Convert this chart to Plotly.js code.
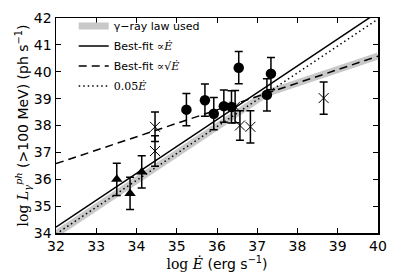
<!DOCTYPE html>
<html>
<head>
<meta charset="utf-8">
<script src="https://cdn.plot.ly/plotly-3.0.1.min.js"></script>
<style>html,body{margin:0;padding:0;background:#fff;}#chart{width:395px;height:280px;}</style>
</head>
<body>
<div id="chart"></div>
<script>
// Triangles
var triX = [33.51, 33.84, 34.13];
var triY = [36.0, 35.47, 36.27];
var triErr = [0.6, 0.6, 0.6];
// Crosses
var crsX = [34.46, 34.46, 36.45, 36.57, 36.83, 38.65];
var crsY = [37.95, 37.05, 38.7, 38.0, 37.95, 39.02];
var crsErr = [0.55, 0.57, 0.6, 0.55, 0.6, 0.6];
// Circles
var cirX = [35.24, 35.70, 35.92, 36.17, 36.36, 36.54, 37.24, 37.34];
var cirY = [38.59, 38.94, 38.44, 38.72, 38.69, 40.15, 39.14, 39.93];
var cirErr = [0.6, 0.6, 0.6, 0.6, 0.6, 0.6, 0.6, 0.6];
// Lines
var grayX = [32, 37.24, 40];
var grayY = [33.96, 39.2, 40.58];
var linX = [32, 40];
var linY = [34.22, 42.22];
var sqrtX = [32, 40];
var sqrtY = [36.58, 40.58];
var dotX = [32, 40];
var dotY = [33.96, 41.96];
// Ticks
var xTicks = [32, 33, 34, 35, 36, 37, 38, 39, 40];
var yTicks = [34, 35, 36, 37, 38, 39, 40, 41, 42];

var serif = 'DejaVu Serif';
var traces = [
  {x: grayX, y: grayY, mode: 'lines', line: {color: '#c8c8c8', width: 7}, name: 'γ−ray law used', legendgroup: 'a', hoverinfo: 'skip'},
  {x: linX, y: linY, mode: 'lines', line: {color: '#000', width: 1.5}, legendgroup: 'b', name: 'Best-fit <span style="font-family:' + serif + '">∝<i>Ė</i></span>'},
  {x: sqrtX, y: sqrtY, mode: 'lines', line: {color: '#000', width: 1.5, dash: '8px,5px'}, legendgroup: 'c', name: 'Best-fit <span style="font-family:' + serif + '">∝√<i>Ė</i></span>'},
  {x: dotX, y: dotY, mode: 'lines', line: {color: '#000', width: 1.5, dash: '1.5px,3px'}, legendgroup: 'd', name: '<span style="font-family:' + serif + '">0.05<i>Ė</i></span>'},
  {x: triX, y: triY, mode: 'markers', marker: {symbol: 'triangle-up', size: 10, color: '#000'}, error_y: {type: 'data', array: triErr, visible: true, color: '#000', thickness: 1.5, width: 4}, showlegend: false},
  {x: crsX, y: crsY, mode: 'markers', marker: {symbol: 'x-thin-open', size: 10, color: '#000', line: {color: '#000', width: 1}}, error_y: {type: 'data', array: crsErr, visible: true, color: '#000', thickness: 1.5, width: 4}, showlegend: false},
  {x: cirX, y: cirY, mode: 'markers', marker: {symbol: 'circle', size: 10.5, color: '#000'}, error_y: {type: 'data', array: cirErr, visible: true, color: '#000', thickness: 1.5, width: 4}, showlegend: false}
];

var axisCommon = {
  showgrid: false, zeroline: false, showline: true, linecolor: '#000', linewidth: 1.5,
  mirror: 'ticks', ticks: 'inside', ticklen: 5, tickwidth: 1, tickcolor: '#000',
  tickfont: {family: 'DejaVu Sans', size: 14, color: '#000'}
};

var layout = {
  width: 395, height: 280,
  margin: {l: 56, r: 17, t: 13, b: 47},
  paper_bgcolor: '#fff', plot_bgcolor: '#fff',
  showlegend: true,
  legend: {x: 0.055, y: 1.03, xanchor: 'left', yanchor: 'top', bgcolor: 'rgba(0,0,0,0)',
           traceorder: 'grouped', tracegroupgap: 1,
           font: {family: 'DejaVu Sans', size: 11, color: '#000'}, itemwidth: 30},
  xaxis: Object.assign({}, axisCommon, {range: [32, 40], tickvals: xTicks, ticktext: xTicks.map(String),
    title: {text: '<span style="font-family:' + serif + '">log <i>Ė</i></span> (erg s<sup>−1</sup>)', font: {family: 'DejaVu Sans', size: 14, color: '#000'}, standoff: 4}}),
  yaxis: Object.assign({}, axisCommon, {range: [34, 42], tickvals: yTicks, ticktext: yTicks.map(String),
    title: {text: '<span style="font-family:' + serif + '">log <i>L</i><sub><i>γ</i></sub><sup><i>ph</i></sup></span> (&gt;100 MeV) (ph s<sup>−1</sup>)', font: {family: 'DejaVu Sans', size: 14, color: '#000'}, standoff: 2}}),
  font: {family: 'DejaVu Sans', color: '#000'}
};

Plotly.newPlot('chart', traces, layout, {staticPlot: true, displayModeBar: false});
</script>
</body>
</html>
